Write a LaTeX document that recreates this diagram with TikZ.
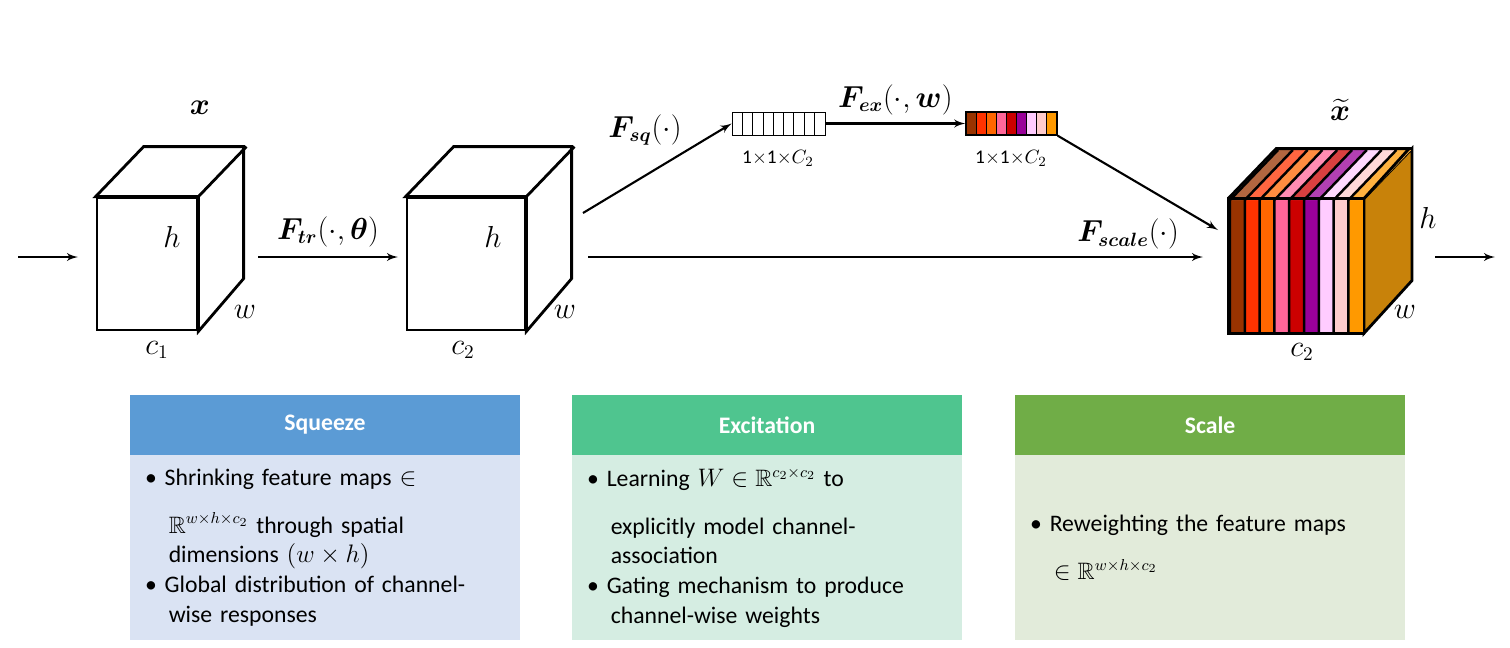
\documentclass[tikz,border=0pt]{standalone}
\usepackage{amsmath}
\usepackage{amssymb}
\usepackage{bm}
\usepackage{fontspec}
\setmainfont{Carlito}
\usepackage{tikz}
\usetikzlibrary{shapes,arrows}
\definecolor{sqhead}{HTML}{5B9BD5}
\definecolor{sqbody}{HTML}{DAE3F3}
\definecolor{exhead}{HTML}{4FC58F}
\definecolor{exbody}{HTML}{D5EDE2}
\definecolor{schead}{HTML}{70AD47}
\definecolor{scbody}{HTML}{E2EBDA}
\definecolor{sideface}{HTML}{C8820A}
\definecolor{st0}{HTML}{993300}
\definecolor{st1}{HTML}{FF3300}
\definecolor{st2}{HTML}{FF6600}
\definecolor{st3}{HTML}{FF6699}
\definecolor{st4}{HTML}{CC0000}
\definecolor{st5}{HTML}{990099}
\definecolor{st6}{HTML}{FFCCFF}
\definecolor{st7}{HTML}{FFCCCC}
\definecolor{st8}{HTML}{FF9900}
\tikzstyle{face} = [rectangle, draw, line width=1.6pt, fill=white, inner sep=0pt]
\tikzstyle{line} = [draw, line width=1.2pt, -latex']
\tikzstyle{lbl} = [font=\fontsize{16}{18}\selectfont]
\tikzstyle{head} = [rectangle, minimum width=7.8cm, minimum height=1.2cm, text=white, font=\fontsize{13.5}{16}\selectfont\bfseries]
\tikzstyle{body} = [rectangle, minimum width=7.8cm, minimum height=3.7cm, text width=7.2cm, align=left, anchor=north, inner sep=0pt, font=\fontsize{13.5}{17}\selectfont]

\begin{document}
\begin{tikzpicture}[x=0.02cm, y=-0.02cm]
\useasboundingbox (0,0) rectangle (1510,647);
% input cube
\node [face, minimum width=2cm, minimum height=2.64cm] (cubeA) at (147,264) {};
\draw [line width=1.6pt, fill=white] (cubeA.north west) -- ++(48,-50) -- ++(100,0) -- ++(0,132) -- (cubeA.south east) -- (cubeA.north east) -- cycle;
\draw [line width=1.6pt] (cubeA.north east) -- ++(48,-50);
\node [lbl] (xA) at (200,108) {$\bm{x}$};
\node [lbl] (hA) at (172,237) {$h$};
\node [lbl] (wA) at (245,312) {$w$};
\node [lbl] (cA) at (157,350) {$c_1$};

% transformed cube
\node [face, minimum width=2.36cm, minimum height=2.64cm] (cubeB) at (466,264) {};
\draw [line width=1.6pt, fill=white] (cubeB.north west) -- ++(48,-50) -- ++(118,0) -- ++(0,132) -- (cubeB.south east) -- (cubeB.north east) -- cycle;
\draw [line width=1.6pt] (cubeB.north east) -- ++(48,-50);
\node [lbl] (hB) at (493,237) {$h$};
\node [lbl] (wB) at (565,312) {$w$};
\node [lbl] (cB) at (463,350) {$c_2$};

% output cube
\node [face, minimum width=2.66cm, minimum height=2.64cm] (cubeC) at (1296,266) {};
\draw [line width=1.6pt, fill=sideface] (cubeC.north east) -- ++(48,-50) -- ++(0,132) -- (cubeC.south east) -- cycle;
\foreach \i in {0,...,8} {
  \fill [st\i] (1230+\i*14.8,200) rectangle ++(14.8,132);
  \fill [st\i!75!white] (1230+\i*14.8,200) -- ++(48,-50) -- ++(14.8,0) -- ++(-48,50) -- cycle;
  \draw [line width=1.4pt] (1230+\i*14.8,200) -- ++(0,132) (1230+\i*14.8,200) -- ++(48,-50);
  % one cell of the weight vector
  \fill [st\i] (966+\i*10.1,112) rectangle ++(10.1,23);
  \draw (966+\i*10.1,112) -- ++(0,23);
}
\draw [line width=1.6pt] (cubeC.north west) rectangle (cubeC.south east);
\draw [line width=1.6pt] (cubeC.north west) -- ++(48,-50) -- ++(133,0) -- (cubeC.north east);
\node [lbl] (xC) at (1340,110) {$\widetilde{\bm{x}}$};
\node [lbl] (hC) at (1428,218) {$h$};
\node [lbl] (wC) at (1405,312) {$w$};
\node [lbl] (cC) at (1302,352) {$c_2$};

% channel vectors
\node [rectangle, draw, minimum width=1.86cm, minimum height=0.46cm] (vecA) at (778.5,123.5) {};
\foreach \i in {1,...,8} \draw (732+\i*10.3,112) -- ++(0,23);
\node [rectangle, draw, line width=0.8pt, minimum width=1.82cm, minimum height=0.46cm] (vecB) at (1011.5,123.5) {};
\node [font=\fontsize{11}{13}\selectfont] (dimA) at (778,158) {1$\times$1$\times$$C_2$};
\node [font=\fontsize{11}{13}\selectfont] (dimB) at (1011,158) {1$\times$1$\times$$C_2$};

% connectors
\coordinate (in) at (18,257);
\coordinate (out) at (1495,257);
\path [line] (in) -- (78,257);
\path [line] (258,257) -- node[lbl, above=2pt] {$\bm{F_{tr}}(\cdot,\bm{\theta})$} (398,257);
\path [line] (588,257) -- (1203,257);
\node [lbl] (fsc) at (1128,234) {$\bm{F_{scale}}(\cdot)$};
\path [line] (583,213) -- (vecA.west);
\node [lbl] (fsq) at (645,130) {$\bm{F_{sq}}(\cdot)$};
\path [line] (vecA.east) -- node[lbl, above=1pt] {$\bm{F_{ex}}(\cdot,\bm{w})$} (vecB.west);
\path [line] (vecB.south east) -- (1218,230);
\path [line] (1435,257) -- (out);

% info boxes
\node [head, fill=sqhead] (sqH) at (325,425) {Squeeze};
\node [body, fill=sqbody] (sqB) at (325,455) {\vspace*{10pt}\textbullet\ Shrinking feature maps $\in$\\\hspace*{1em}$\mathbb{R}^{w\times h\times c_2}$ through spatial\\\hspace*{1em}dimensions $(w\times h)$\\\textbullet\ Global distribution of channel-\\\hspace*{1em}wise responses};
\node [head, fill=exhead] (exH) at (767,425) {Excitation};
\node [body, fill=exbody] (exB) at (767,455) {\vspace*{10pt}\textbullet\ Learning $W\in\mathbb{R}^{c_2\times c_2}$ to\\\hspace*{1em}explicitly model channel-\\\hspace*{1em}association\\\textbullet\ Gating mechanism to produce\\\hspace*{1em}channel-wise weights};
\node [head, fill=schead] (scH) at (1210,425) {Scale};
\node [body, fill=scbody] (scB) at (1210,455) {\vspace*{10pt}\textbullet\ Reweighting the feature maps\\\hspace*{1em}$\in\mathbb{R}^{w\times h\times c_2}$};
\end{tikzpicture}
\end{document}
